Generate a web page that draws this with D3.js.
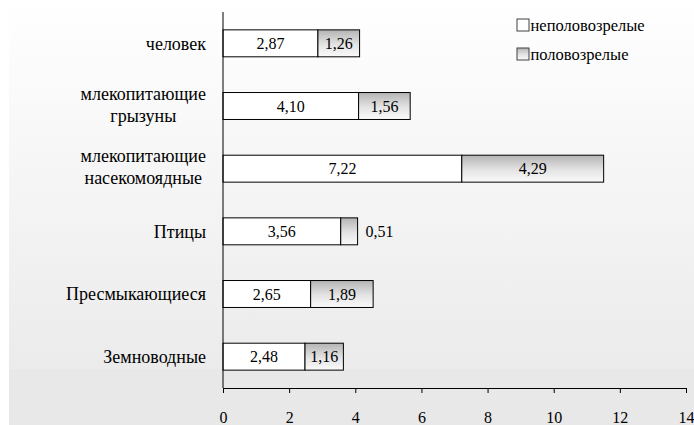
<!DOCTYPE html>
<html>
<head>
<meta charset="utf-8">
<script src="https://cdn.jsdelivr.net/npm/d3@7"></script>
<style>
  html, body { margin: 0; padding: 0; background: #ffffff; }
  svg { display: block; }
</style>
</head>
<body>
<svg id="chart" width="694" height="425" font-family="Times New Roman"></svg>
<script>
// Категории (сверху вниз) и значения по двум группам
const categories = ["человек", "млекопитающие\nгрызуны", "млекопитающие\nнасекомоядные", "Птицы", "Пресмыкающиеся", "Земноводные"];
const immature = [2.87, 4.10, 7.22, 3.56, 2.65, 2.48];
const mature = [1.26, 1.56, 4.29, 0.51, 1.89, 1.16];
const seriesNames = ["неполовозрелые", "половозрелые"];
const xTicks = [0, 2, 4, 6, 8, 10, 12, 14];

const W = 694, H = 425;
const margin = { left: 223, right: 8, top: 12, bottom: 37 };
const FONT = "Times New Roman";

function draw() {
  const svg = d3.select("#chart");
  svg.selectAll("*").remove();
  const defs = svg.append("defs");

  // фон области диаграммы
  const bg = defs.append("linearGradient").attr("id", "bgGrad")
    .attr("x1", 0).attr("y1", 0).attr("x2", 0).attr("y2", 1);
  bg.append("stop").attr("offset", 0).attr("stop-color", "#ffffff");
  bg.append("stop").attr("offset", 1).attr("stop-color", "#ebebeb");

  // заливка второго сегмента
  const seg = defs.append("linearGradient").attr("id", "segGrad")
    .attr("x1", 0).attr("y1", 0).attr("x2", 0).attr("y2", 1);
  seg.append("stop").attr("offset", 0).attr("stop-color", "#b4b4b4");
  seg.append("stop").attr("offset", 0.55).attr("stop-color", "#e4e4e4");
  seg.append("stop").attr("offset", 1).attr("stop-color", "#fafafa");

  svg.append("rect").attr("x", 9).attr("y", 0).attr("width", W - 9).attr("height", 369)
    .attr("fill", "url(#bgGrad)");
  svg.append("rect").attr("x", 9).attr("y", 369).attr("width", W - 9).attr("height", H - 369)
    .attr("fill", "#e8e8e8");

  const x = d3.scaleLinear().domain([0, 14]).range([margin.left, W - margin.right]);
  const y = d3.scaleBand().domain(categories)
    .range([margin.top, H - margin.bottom])
    .paddingInner(0.57).paddingOuter(0.285);

  const fmt = v => d3.format(".2f")(v).replace(".", ",");
  const rows = categories.map((c, i) => ({ c, a: immature[i], b: mature[i] }));
  const g = svg.append("g");

  // сегменты: неполовозрелые
  g.selectAll("rect.a").data(rows).join("rect")
    .attr("class", "a")
    .attr("x", d => x(0)).attr("y", d => y(d.c))
    .attr("width", d => x(d.a) - x(0)).attr("height", y.bandwidth())
    .attr("fill", "#ffffff").attr("stroke", "#000").attr("stroke-width", 1);

  // сегменты: половозрелые
  g.selectAll("rect.b").data(rows).join("rect")
    .attr("class", "b")
    .attr("x", d => x(d.a)).attr("y", d => y(d.c))
    .attr("width", d => x(d.a + d.b) - x(d.a)).attr("height", y.bandwidth())
    .attr("fill", "url(#segGrad)").attr("stroke", "#000").attr("stroke-width", 1);

  // подписи значений
  g.selectAll("text.va").data(rows).join("text")
    .attr("class", "va")
    .attr("x", d => (x(0) + x(d.a)) / 2)
    .attr("y", d => y(d.c) + y.bandwidth() / 2)
    .attr("dy", "0.35em").attr("text-anchor", "middle")
    .attr("font-family", FONT).attr("font-size", 16)
    .text(d => fmt(d.a));

  g.selectAll("text.vb").data(rows).join("text")
    .attr("class", "vb")
    .each(function (d) {
      const w = x(d.a + d.b) - x(d.a);
      const t = d3.select(this)
        .attr("y", y(d.c) + y.bandwidth() / 2)
        .attr("dy", "0.35em")
        .attr("font-family", FONT).attr("font-size", 16)
        .text(fmt(d.b));
      if (w < 28) {
        t.attr("x", x(d.a + d.b) + 8).attr("text-anchor", "start");
      } else {
        t.attr("x", (x(d.a) + x(d.a + d.b)) / 2).attr("text-anchor", "middle");
      }
    });

  // подписи категорий: многострочные центрируются по самой длинной строке
  const labelRight = 206;
  categories.forEach(c => {
    const lines = c.split("\n");
    const cy = y(c) + y.bandwidth() / 2;
    const t = svg.append("text").attr("text-anchor", "middle")
      .attr("font-family", FONT).attr("font-size", 18);
    const lh = 22;
    lines.forEach((ln, k) => {
      t.append("tspan").attr("x", 0)
        .attr("y", cy + (k - (lines.length - 1) / 2) * lh - (lines.length > 1 ? 1.5 : 0))
        .attr("dy", "0.35em").text(ln);
    });
    const wmax = d3.max(t.selectAll("tspan").nodes(), n => n.getComputedTextLength());
    t.selectAll("tspan").attr("x", labelRight - wmax / 2);
  });

  // оси
  svg.append("line")
    .attr("x1", x(0)).attr("x2", x(0))
    .attr("y1", margin.top).attr("y2", H - margin.bottom)
    .attr("stroke", "#000").attr("stroke-width", 1);

  const xAxis = svg.append("g")
    .attr("transform", `translate(0,${H - margin.bottom})`)
    .call(d3.axisBottom(x).tickValues(xTicks).tickSize(5).tickSizeOuter(0).tickFormat(d3.format("d")));
  xAxis.attr("font-family", FONT).attr("font-size", 16);
  xAxis.select(".domain").attr("stroke", "#000");
  xAxis.selectAll(".tick line").attr("stroke", "#000");
  xAxis.selectAll(".tick text")
    .attr("fill", "#000")
    .attr("y", 35).attr("dy", 0);

  // легенда
  const legend = svg.append("g").attr("transform", "translate(517,0)");
  const legendRows = [
    { name: seriesNames[0], fill: "#ffffff", y: 19 },
    { name: seriesNames[1], fill: "url(#segGrad)", y: 48 }
  ];
  legendRows.forEach(r => {
    legend.append("rect").attr("x", 0).attr("y", r.y).attr("width", 12).attr("height", 12)
      .attr("fill", r.fill).attr("stroke", "#404040").attr("stroke-width", 1);
    legend.append("text").attr("x", 13.5).attr("y", r.y + 6).attr("dy", "0.35em")
      .attr("font-family", FONT).attr("font-size", 16.5).text(r.name);
  });
}

draw();
// перерисовка после загрузки шрифта, чтобы ширины подписей были точными
if (document.fonts && document.fonts.load) {
  document.fonts.load("18px 'Times New Roman'").then(draw, draw);
}
</script>
</body>
</html>
